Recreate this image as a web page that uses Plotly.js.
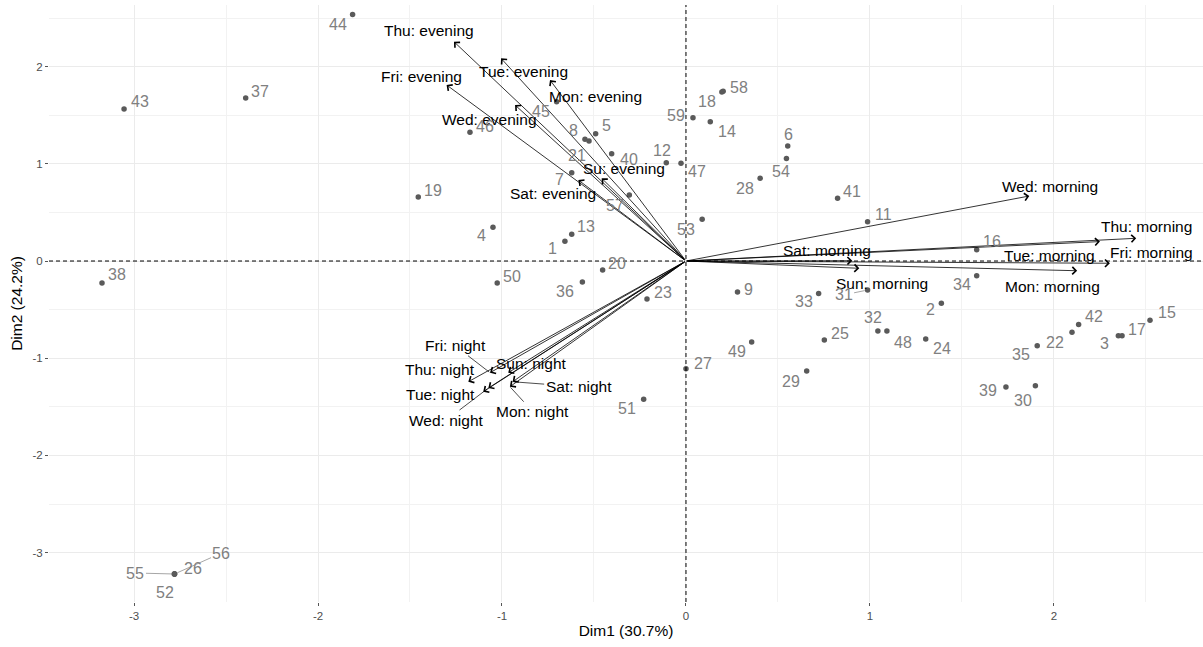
<!DOCTYPE html>
<html><head><meta charset="utf-8">
<script src="https://cdn.plot.ly/plotly-3.0.1.min.js"></script>
<style>html,body{margin:0;padding:0;background:#fff}#chart{width:1203px;height:647px}</style>
</head><body><div id="chart"></div>
<script>
// ---- individuals (rows) ----
const indIds = ['1','2','3','4','5','6','7','8','9','11','12','13','14','15','16','17','18','19','20','21','22','23','24','25','26','27','28','29','30','31','32','33','34','35','36','37','38','39','40','41','42','43','44','45','46','47','48','49','50','51','52','53','54','55','56','57','58','59'];
const indDim1 = [-0.658,1.388,2.35,-1.049,-0.491,0.553,-0.621,-0.549,0.28,0.987,-0.107,-0.621,0.132,2.522,1.58,2.37,0.195,-1.455,-0.453,-0.527,2.098,-0.212,1.303,0.752,-2.78,0.0,0.403,0.656,1.899,0.987,1.043,0.721,1.58,1.909,-0.563,-2.393,-3.174,1.739,-0.404,0.824,2.134,-3.054,-1.812,-0.703,-1.174,-0.027,1.092,0.357,-1.026,-0.23,-2.78,0.088,0.546,-2.78,-2.78,-0.308,0.202,0.038];
const indDim2 = [0.203,-0.435,-0.77,0.347,1.31,1.183,0.909,1.252,-0.319,0.405,1.011,0.275,1.433,-0.61,0.116,-0.768,1.74,0.658,-0.093,1.235,-0.734,-0.391,-0.803,-0.813,-3.22,-1.108,0.851,-1.132,-1.283,-0.298,-0.72,-0.333,-0.151,-0.871,-0.216,1.677,-0.226,-1.296,1.104,0.645,-0.652,1.564,2.537,1.639,1.324,1.005,-0.72,-0.833,-0.226,-1.423,-3.22,0.429,1.056,-3.22,-3.22,0.679,1.746,1.475];

// ---- variables (columns) ----
const varNames = ['Mon: morning','Tue: morning','Wed: morning','Thu: morning','Fri: morning','Sat: morning','Sun: morning',
                  'Mon: evening','Tue: evening','Wed: evening','Thu: evening','Fri: evening','Sat: evening','Su: evening',
                  'Mon: night','Tue: night','Wed: night','Thu: night','Fri: night','Sat: night','Sun: night'];
const varDim1 = [2.126,2.304,1.866,2.447,2.25,0.904,0.942,
                 -0.739,-1.005,-0.929,-1.261,-1.301,-0.585,-0.458,
                 -0.957,-1.102,-1.074,-1.183,-1.065,-0.942,-0.966];
const varDim2 = [-0.100,-0.023,0.669,0.234,0.2,0.003,-0.075,
                 1.862,2.085,1.605,2.256,1.811,0.833,0.851,
                 -1.293,-1.345,-1.307,-1.242,-1.149,-1.242,-1.149];

const xTickVals = [-3,-2,-1,0,1,2];
const yTickVals = [-3,-2,-1,0,1,2];
const xTitle = 'Dim1 (30.7%)';
const yTitle = 'Dim2 (24.2%)';

// ---- label placement (pixel offsets of label centre from its mark; layout only) ----
const indLabelDx = [-12,-11,-14,-11,11,1,-12,-11,11,16,-4,14,17,17,15,15,-15,15,14,-12,-17,16,16,16,19,17,-15,-16,-12,-24,-5,-15,-15,-16,-17,14,15,-18,17,14,15,16,-15,-16,15,16,16,-15,15,-17,-9,-16,-5,-39,47,-14,16,-17];
const indLabelDy = [7,6,8,8,-8,-12,7,-9,-3,-7,-12,-8,10,-8,-8,-6,10,-7,-7,15,10,-7,9,-7,-6,-5,10,10,15,5,-14,8,9,9,9,-7,-8,4,6,-7,-8,-8,10,10,-6,8,11,10,-6,9,18,10,13,-1,-21,10,-4,-2];
const indLabelSegment = ['31','55','56'];
const varLabelDx = [-25,-60,21,10,52,-25,23, 45,22,-26,-25,-25,-25,22, 23,-43,-42,-28,-35,66,23];
const varLabelDy = [16,-8,-10,-12,11,-10,15, 16,13,14,-11,-9,13,-10, 25,3,32,-12,-27,5,-9];
const varLabelSegment = ['Wed: night','Fri: night','Sat: night','Mon: night'];

const FONT = 'Liberation Sans, Arial, sans-serif';
const annotations = [];

// variable arrows from the origin
varNames.forEach((n, i) => {
  annotations.push({
    x: varDim1[i], y: varDim2[i], xref: 'x', yref: 'y',
    ax: 0, ay: 0, axref: 'x', ayref: 'y',
    text: '', showarrow: true, arrowhead: 4, arrowsize: 1.8, arrowwidth: 0.8,
    arrowcolor: '#000', standoff: 0, startstandoff: 0
  });
});
// variable labels
varNames.forEach((n, i) => {
  const seg = varLabelSegment.includes(n);
  const a = { x: varDim1[i], y: varDim2[i], xref: 'x', yref: 'y', text: n,
    font: { family: FONT, size: 15.5, color: '#000' } };
  if (seg) {
    Object.assign(a, { showarrow: true, ax: varLabelDx[i], ay: varLabelDy[i], arrowhead: 0,
      arrowwidth: 0.7, arrowcolor: '#000', standoff: 1 });
  } else {
    Object.assign(a, { showarrow: false, xshift: varLabelDx[i], yshift: -varLabelDy[i] });
  }
  annotations.push(a);
});
// individual labels
indIds.forEach((id, i) => {
  const seg = indLabelSegment.includes(id);
  const a = { x: indDim1[i], y: indDim2[i], xref: 'x', yref: 'y', text: id,
    font: { family: FONT, size: 16, color: '#808080' } };
  if (seg) {
    Object.assign(a, { showarrow: true, ax: indLabelDx[i], ay: indLabelDy[i], arrowhead: 0,
      arrowwidth: 0.7, arrowcolor: '#808080', standoff: 3 });
  } else {
    Object.assign(a, { showarrow: false, xshift: indLabelDx[i], yshift: -indLabelDy[i] });
  }
  annotations.push(a);
});

const traces = [{
  type: 'scatter', mode: 'markers', x: indDim1, y: indDim2, text: indIds,
  marker: { size: 5.5, color: '#5a5a5a' }, hoverinfo: 'text', showlegend: false
}];

const axisCommon = {
  showline: false, zeroline: false, ticks: 'outside', ticklen: 3, tickwidth: 1, tickcolor: '#555',
  gridcolor: '#ebebeb', gridwidth: 1.1,
  minor: { dtick: 0.5, showgrid: true, gridcolor: '#f2f2f2', gridwidth: 0.7, ticks: '' },
  tickfont: { family: FONT, size: 11.5, color: '#4d4d4d' }
};

const layout = {
  width: 1203, height: 647,
  margin: { l: 49, r: 0, t: 5, b: 45 },
  paper_bgcolor: '#fff', plot_bgcolor: '#fff',
  font: { family: FONT },
  xaxis: Object.assign({}, axisCommon, {
    range: [-3.462, 2.81], tickvals: xTickVals, ticktext: xTickVals.map(String),
    title: { text: xTitle, font: { family: FONT, size: 15.5, color: '#000' }, standoff: 4 }
  }),
  yaxis: Object.assign({}, axisCommon, {
    range: [-3.508, 2.634], tickvals: yTickVals, ticktext: yTickVals.map(String),
    title: { text: yTitle, font: { family: FONT, size: 15.5, color: '#000' }, standoff: 6 }
  }),
  shapes: [
    { type: 'line', xref: 'x', yref: 'paper', x0: 0, x1: 0, y0: 0, y1: 1, line: { color: '#000', width: 1, dash: '4px,3px' } },
    { type: 'line', xref: 'paper', yref: 'y', x0: 0, x1: 1, y0: 0, y1: 0, line: { color: '#000', width: 1, dash: '4px,3px' } }
  ],
  annotations: annotations
};

Plotly.newPlot('chart', traces, layout, { displayModeBar: false, responsive: false });
</script>
</body></html>
